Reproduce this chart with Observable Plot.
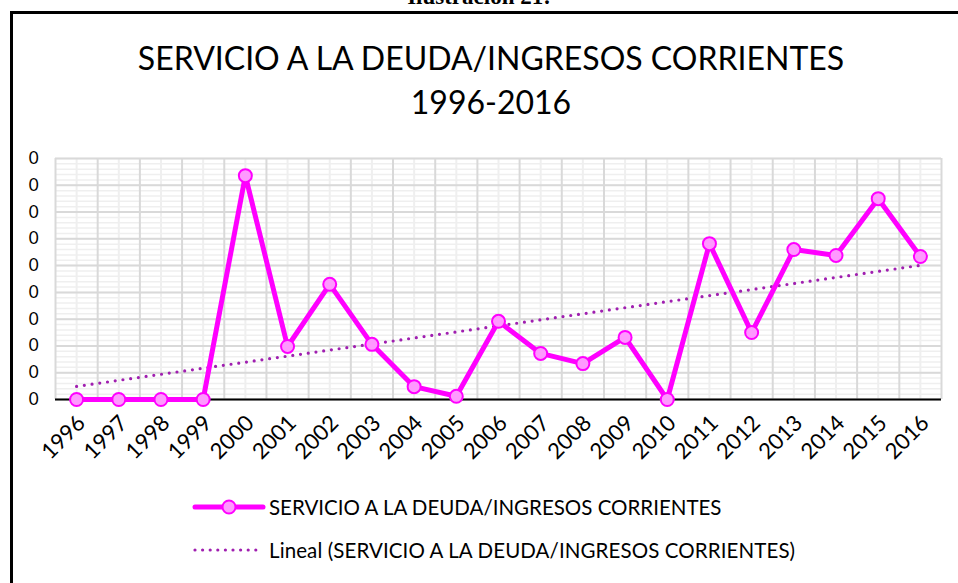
<!DOCTYPE html>
<html>
<head>
<meta charset="utf-8">
<script src="https://cdn.jsdelivr.net/npm/d3@7"></script>
<script src="https://cdn.jsdelivr.net/npm/@observablehq/plot@0.6"></script>
<style>
  html, body { margin: 0; padding: 0; background: #fff; overflow: hidden; }
  body { width: 958px; height: 583px; position: relative; font-family: Lato, "Open Sans", sans-serif; }
  #frame { position: absolute; left: 10px; top: 11px; width: 960px; height: 600px; border-top: 3px solid #000; border-left: 3px solid #000; }
  #fig { position: absolute; left: 0; top: -16px; width: 958px; text-align: center; font-family: "Liberation Serif", serif; font-weight: bold; font-size: 23px; }
  #title { position: absolute; left: 0; top: 36px; width: 982px; text-align: center; font-size: 32px; line-height: 44px; color: #000; }
  #chart { position: absolute; left: 0; top: 140px; }
  .leg { position: absolute; left: 192px; font-size: 20.5px; color: #000; display: flex; align-items: center; white-space: nowrap; }
  .leg svg { margin-right: 3px; }
</style>
</head>
<body>
<div id="fig">Ilustración 21:</div>
<div id="frame"></div>
<div id="title">SERVICIO A LA DEUDA/INGRESOS CORRIENTES<br>1996-2016</div>
<div id="chart"></div>
<div class="leg" style="top:495px">
  <svg width="74" height="24"><line x1="3" y1="12" x2="71" y2="12" stroke="#ff00ff" stroke-width="5" stroke-linecap="round"/><circle cx="37" cy="12" r="6.5" fill="#ff99ff" stroke="#ff00ff" stroke-width="2"/></svg>
  <span>SERVICIO A LA DEUDA/INGRESOS CORRIENTES</span>
</div>
<div class="leg" style="top:538px">
  <svg width="74" height="24"><line x1="3" y1="12" x2="71" y2="12" stroke="#a01fb0" stroke-width="3.2" stroke-linecap="round" stroke-dasharray="0 7.6"/></svg>
  <span style="letter-spacing:0.1px">Lineal (SERVICIO A LA DEUDA/INGRESOS CORRIENTES)</span>
</div>
<script>
const years = [1996, 1997, 1998, 1999, 2000, 2001, 2002, 2003, 2004, 2005, 2006,
               2007, 2008, 2009, 2010, 2011, 2012, 2013, 2014, 2015, 2016];
const ratio = [0, 0, 0, 0, 0.418, 0.099, 0.215, 0.103, 0.024, 0.006, 0.146,
               0.086, 0.067, 0.116, 0, 0.291, 0.125, 0.280, 0.269, 0.375, 0.267];
const yTicks = [0, 0.05, 0.10, 0.15, 0.20, 0.25, 0.30, 0.35, 0.40, 0.45];
const yMinor = d3.range(0, 0.4501, 0.01);
const data = years.map((year, i) => ({year, value: ratio[i]}));
const bounds = years.map(y => y - 0.5).concat([years[years.length - 1] + 0.5]);

const chart = Plot.plot({
  width: 958,
  height: 330,
  marginLeft: 55,
  marginRight: 17,
  marginTop: 18,
  marginBottom: 71,
  style: {fontFamily: "Lato, 'Open Sans', sans-serif", color: "#000", background: "transparent"},
  x: {type: "linear", domain: [bounds[0], bounds[bounds.length - 1]], label: null},
  y: {domain: [0, 0.45], label: null},
  marks: [
    Plot.ruleY(yMinor, {stroke: "#efefef", strokeWidth: 1.5}),
    Plot.ruleX(years, {stroke: "#efefef", strokeWidth: 2}),
    Plot.ruleY(yTicks, {stroke: "#d9d9d9", strokeWidth: 2}),
    Plot.ruleX(bounds, {stroke: "#d9d9d9", strokeWidth: 2}),
    Plot.ruleY([0], {stroke: "#000", strokeWidth: 2}),
    Plot.axisY(yTicks, {tickSize: 0, tickPadding: 17, tickFormat: d3.format(".0f"), fontSize: 17, label: null}),
    Plot.axisX(years, {tickSize: 0, tickPadding: 20, dx: 5, tickRotate: -45, tickFormat: d => String(d), fontSize: 22, label: null}),
    Plot.linearRegressionY(data, {x: "year", y: "value", ci: 0, stroke: "#a01fb0", strokeWidth: 3.2, strokeDasharray: "0 7.8", strokeLinecap: "round"}),
    Plot.line(data, {x: "year", y: "value", stroke: "#ff00ff", strokeWidth: 5, strokeLinejoin: "round"}),
    Plot.dot(data, {x: "year", y: "value", r: 6.5, fill: "#ff99ff", stroke: "#ff00ff", strokeWidth: 2})
  ]
});
document.getElementById("chart").appendChild(chart);
</script>
</body>
</html>
